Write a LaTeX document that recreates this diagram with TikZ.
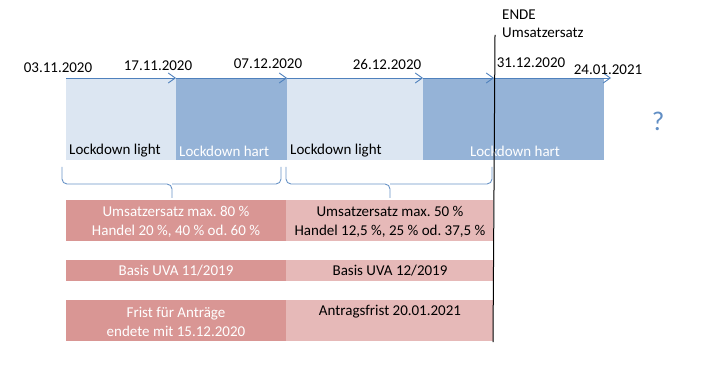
\documentclass[tikz,border=0pt]{standalone}
\usepackage{fontspec}
\setmainfont{Carlito}
\usetikzlibrary{arrows.meta}
\definecolor{lblue}{HTML}{DCE6F2}
\definecolor{dblue}{HTML}{95B3D7}
\definecolor{lnblue}{HTML}{4F81BD}
\definecolor{dred}{HTML}{D99694}
\definecolor{lred}{HTML}{E6B9B8}
\frenchspacing
\begin{document}
\begin{tikzpicture}[x=1pt,y=-1pt,
  txt/.style={font=\fontsize{15}{19.5}\selectfont\frenchspacing, inner sep=0pt, align=center},
  date/.style={txt, text=black},
  box/.style={draw=none, inner sep=0pt, anchor=north west},
  arr/.style={draw=lnblue, line width=0.9pt, -{Straight Barb[length=7pt,width=10pt]}},
  brc/.style={draw=lnblue!85, line width=0.9pt, rounded corners=5pt},
  wtxt/.style={txt, text=white},
  btxt/.style={txt, text=black}]
\useasboundingbox (0,0) rectangle (708,387);
% blue phase boxes
\node[box, fill=lblue, minimum width=110pt, minimum height=82pt] (b1) at (66,78) {};
\node[box, fill=dblue, minimum width=111pt, minimum height=82pt] (b2) at (176,78) {};
\node[box, fill=lblue, minimum width=136pt, minimum height=82pt] (b3) at (287,78) {};
\node[box, fill=dblue, minimum width=181pt, minimum height=82pt] (b4) at (423,78) {};
\node[btxt, anchor=west] (l1) at (69,151) {Lockdown light};
\node[wtxt, anchor=west] (l2) at (179,151) {Lockdown hart};
\node[btxt, anchor=west] (l3) at (290,151) {Lockdown light};
\node[wtxt] (l4) at (515,151) {Lockdown hart};
% time axis
\coordinate (t0) at (66,78);
\coordinate (t1) at (176,78);
\coordinate (t2) at (287,78);
\coordinate (t3) at (423,78);
\coordinate (t4) at (494,78);
\coordinate (t5) at (611,78);
\draw[arr] (t0) -- (t1);
\draw[arr] (t1) -- (t2);
\draw[arr] (t2) -- (t3);
\draw[arr] (t3) -- (t4);
\draw[arr] (t4) -- (t5);
\node[date] (d0) at (58,68) {03.11.2020};
\node[date] (d1) at (158,66) {17.11.2020};
\node[date] (d2) at (268,64) {07.12.2020};
\node[date] (d3) at (387,64) {26.12.2020};
\node[date] (d4) at (531,63) {31.12.2020};
\node[date] (d5) at (608,70) {24.01.2021};
\node[date, anchor=west] (e1) at (502,15) {ENDE};
\node[date, anchor=west] (e2) at (502,33) {Umsatzersatz};
\node[txt, text=lnblue!90, font=\fontsize{27}{30}\selectfont] (q) at (658,121) {?};
% braces
\draw[brc] (62,167) -- (62,184) -- (172,184) -- (172,198);
\draw[brc] (281,167) -- (281,184) -- (172,184);
\draw[brc] (286,167) -- (286,184) -- (390,184) -- (390,198);
\draw[brc] (492,167) -- (492,184) -- (390,184);
% red boxes
\node[box, fill=dred, minimum width=220pt, minimum height=41pt] (r1) at (66,200) {};
\node[box, fill=lred, minimum width=207pt, minimum height=41pt] (s1) at (286,200) {};
\node[box, fill=dred, minimum width=220pt, minimum height=21pt] (r2) at (66,260) {};
\node[box, fill=lred, minimum width=207pt, minimum height=21pt] (s2) at (286,260) {};
\node[box, fill=dred, minimum width=220pt, minimum height=41pt] (r3) at (66,300) {};
\node[box, fill=lred, minimum width=207pt, minimum height=41pt] (s3) at (286,300) {};
\node[wtxt] at (176,222) {Umsatzersatz max. 80 \%\\Handel 20 \%, 40 \% od. 60 \%};
\node[btxt] at (390,222) {Umsatzersatz max. 50 \%\\Handel 12,5 \%, 25 \% od. 37,5 \%};
\node[wtxt] at (176,271) {Basis UVA 11/2019};
\node[btxt] at (390,271) {Basis UVA 12/2019};
\node[wtxt] at (176,322) {Frist für Anträge\\endete mit 15.12.2020};
\node[btxt] at (390,312) {Antragsfrist 20.01.2021};
% end line
\coordinate (v0) at (495,35);
\coordinate (v1) at (493,342);
\draw[black, line width=1pt] (v0) -- (v1);
\end{tikzpicture}
\end{document}
